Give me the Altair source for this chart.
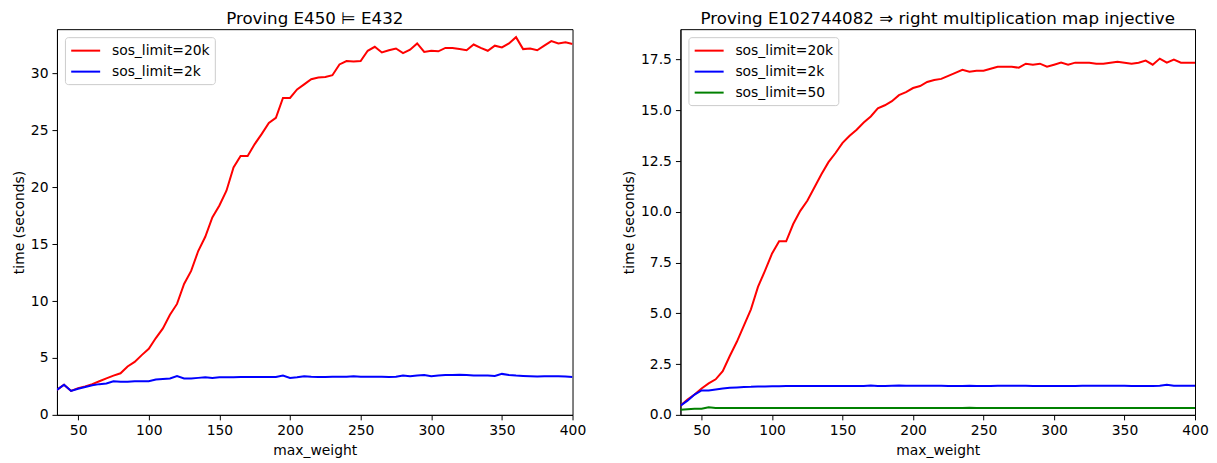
import altair as alt
import pandas as pd

FONT = "DejaVu Sans"

max_weight = [35, 40, 45, 50, 55, 60, 65, 70, 75, 80,
              85, 90, 95, 100, 105, 110, 115, 120, 125, 130,
              135, 140, 145, 150, 155, 160, 165, 170, 175, 180,
              185, 190, 195, 200, 205, 210, 215, 220, 225, 230,
              235, 240, 245, 250, 255, 260, 265, 270, 275, 280,
              285, 290, 295, 300, 305, 310, 315, 320, 325, 330,
              335, 340, 345, 350, 355, 360, 365, 370, 375, 380,
              385, 390, 395, 400]

# Left panel: Proving E450 |= E432
left_20k = [2.2, 2.65, 2.1, 2.35, 2.5, 2.7, 2.95, 3.2, 3.45, 3.65,
            4.25, 4.65, 5.25, 5.8, 6.75, 7.6, 8.8, 9.75, 11.5, 12.65,
            14.4, 15.65, 17.35, 18.4, 19.7, 21.75, 22.75, 22.75, 23.8, 24.7,
            25.65, 26.1, 27.85, 27.85, 28.6, 29.05, 29.5, 29.65, 29.7, 29.85,
            30.8, 31.1, 31.05, 31.1, 32.0, 32.35, 31.85, 32.05, 32.2, 31.8,
            32.1, 32.65, 31.9, 32.0, 31.95, 32.25, 32.25, 32.15, 32.05, 32.55,
            32.25, 32.0, 32.45, 32.3, 32.65, 33.2, 32.15, 32.2, 32.05, 32.45,
            32.85, 32.65, 32.75, 32.6]
left_2k = [2.2, 2.65, 2.1, 2.3, 2.45, 2.6, 2.7, 2.75, 2.95, 2.9,
           2.9, 2.95, 2.95, 2.95, 3.1, 3.15, 3.2, 3.4, 3.2, 3.2,
           3.25, 3.3, 3.25, 3.3, 3.3, 3.3, 3.32, 3.32, 3.32, 3.33,
           3.33, 3.33, 3.45, 3.25, 3.3, 3.4, 3.35, 3.33, 3.33, 3.35,
           3.35, 3.35, 3.4, 3.35, 3.35, 3.35, 3.35, 3.33, 3.35, 3.45,
           3.4, 3.45, 3.5, 3.4, 3.45, 3.5, 3.5, 3.52, 3.5, 3.45,
           3.45, 3.45, 3.42, 3.6, 3.5, 3.45, 3.42, 3.4, 3.38, 3.4,
           3.4, 3.4, 3.38, 3.32]

# Right panel: Proving E102744082 => right multiplication map injective
right_20k = [0.45, 0.75, 1.0, 1.3, 1.55, 1.75, 2.15, 2.9, 3.6, 4.4,
             5.2, 6.3, 7.1, 7.95, 8.55, 8.55, 9.4, 10.05, 10.55, 11.2,
             11.85, 12.45, 12.9, 13.4, 13.75, 14.05, 14.4, 14.7, 15.1, 15.25,
             15.45, 15.75, 15.9, 16.1, 16.2, 16.4, 16.5, 16.55, 16.7, 16.85,
             17.0, 16.9, 16.95, 16.95, 17.05, 17.15, 17.15, 17.15, 17.1, 17.3,
             17.25, 17.3, 17.15, 17.25, 17.35, 17.25, 17.35, 17.35, 17.35, 17.3,
             17.3, 17.35, 17.4, 17.35, 17.3, 17.35, 17.45, 17.25, 17.55, 17.35,
             17.5, 17.35, 17.35, 17.35]
right_2k = [0.45, 0.7, 1.0, 1.2, 1.2, 1.25, 1.3, 1.33, 1.35, 1.37,
            1.38, 1.4, 1.4, 1.41, 1.41, 1.42, 1.42, 1.42, 1.42, 1.42,
            1.42, 1.42, 1.42, 1.42, 1.42, 1.42, 1.42, 1.45, 1.42, 1.42,
            1.43, 1.44, 1.43, 1.43, 1.43, 1.43, 1.43, 1.43, 1.42, 1.42,
            1.42, 1.43, 1.42, 1.42, 1.42, 1.43, 1.43, 1.43, 1.43, 1.43,
            1.42, 1.42, 1.42, 1.42, 1.42, 1.42, 1.42, 1.43, 1.43, 1.43,
            1.43, 1.43, 1.43, 1.43, 1.42, 1.42, 1.42, 1.42, 1.43, 1.48,
            1.43, 1.43, 1.43, 1.43]
right_50 = [0.25, 0.28, 0.3, 0.3, 0.37, 0.34, 0.34, 0.34, 0.34, 0.34,
            0.34, 0.34, 0.34, 0.34, 0.34, 0.34, 0.34, 0.34, 0.34, 0.34,
            0.34, 0.34, 0.34, 0.34, 0.34, 0.34, 0.34, 0.34, 0.34, 0.34,
            0.34, 0.34, 0.34, 0.34, 0.34, 0.34, 0.34, 0.34, 0.34, 0.34,
            0.34, 0.35, 0.34, 0.34, 0.34, 0.34, 0.34, 0.34, 0.34, 0.34,
            0.34, 0.34, 0.34, 0.34, 0.34, 0.34, 0.34, 0.34, 0.34, 0.34,
            0.34, 0.34, 0.34, 0.34, 0.34, 0.34, 0.34, 0.34, 0.34, 0.34,
            0.34, 0.34, 0.34, 0.34]

left_series = ["sos_limit=20k", "sos_limit=2k"]
left_colors = ["#ff0000", "#0000ff"]
right_series = ["sos_limit=20k", "sos_limit=2k", "sos_limit=50"]
right_colors = ["#ff0000", "#0000ff", "#008000"]

x_ticks = [50, 100, 150, 200, 250, 300, 350, 400]
left_y_ticks = [0, 5, 10, 15, 20, 25, 30]
right_y_ticks = [0, 2.5, 5.0, 7.5, 10.0, 12.5, 15.0, 17.5]


def long_df(series_names, series_values):
    rows = []
    for name, vals in zip(series_names, series_values):
        for xv, yv in zip(max_weight, vals):
            rows.append({"max_weight": xv, "time": yv, "series": name})
    return pd.DataFrame(rows)


df_left = long_df(left_series, [left_20k, left_2k])
df_right = long_df(right_series, [right_20k, right_2k, right_50])


def panel(df, names, colors, ymax, yticks, yfmt, title, width):
    return alt.Chart(df).mark_line(strokeWidth=2, clip=True).encode(
        x=alt.X("max_weight:Q",
                scale=alt.Scale(domain=[35, 400], nice=False, zero=False),
                axis=alt.Axis(values=x_ticks, format="d", title="max_weight",
                              titlePadding=6, labelFlush=False)),
        y=alt.Y("time:Q",
                scale=alt.Scale(domain=[0, ymax], nice=False, zero=False),
                axis=alt.Axis(values=yticks, format=yfmt, title="time (seconds)",
                              labelFlush=False)),
        color=alt.Color("series:N",
                        scale=alt.Scale(domain=names, range=colors),
                        legend=alt.Legend(title=None, orient="top-left", offset=8,
                                          symbolType="M-1,0H3", symbolSize=210,
                                          symbolStrokeWidth=2,
                                          labelFont=FONT, labelFontSize=13.9,
                                          labelColor="black", labelOffset=25,
                                          strokeColor="#cccccc",
                                          fillColor="rgba(255,255,255,0.8)",
                                          cornerRadius=3, padding=5,
                                          rowPadding=5)),
    ).properties(width=width, height=386,
                 title=alt.TitleParams(title))


left = panel(df_left, left_series, left_colors, 33.9, left_y_ticks, "d",
             "Proving E450 \u22a8 E432", 516)
right = panel(df_right, right_series, right_colors, 19.0, right_y_ticks, ".1f",
              "Proving E102744082 \u21d2 right multiplication map injective", 515)

chart = alt.hconcat(left, right, spacing=35).resolve_scale(
    color="independent", y="independent"
).properties(
    padding={"left": 3, "top": 2, "right": 0, "bottom": 0}
).configure_axis(
    grid=False, domainColor="black", domainWidth=1, tickColor="black",
    tickWidth=1, tickSize=5, labelColor="black", titleColor="black",
    labelFont=FONT, titleFont=FONT, labelFontSize=13.9, titleFontSize=13.9,
    titleFontWeight="normal", labelPadding=4,
).configure_view(
    stroke="black", strokeWidth=1,
).configure_title(
    font=FONT, fontSize=16.7, fontWeight="normal", color="black",
    anchor="middle", offset=1.5,
)

chart.save("out.html", embed_options={"renderer": "svg", "actions": False})
